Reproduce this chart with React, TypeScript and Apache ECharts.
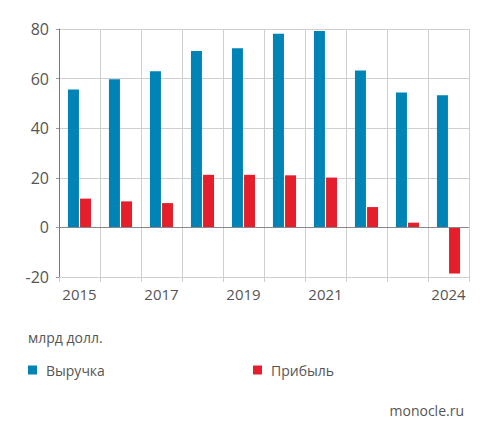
import React, { useEffect, useRef } from "react";
import * as echarts from "echarts";

const years = ["2015", "2016", "2017", "2018", "2019", "2020", "2021", "2022", "2023", "2024"];
const shownYears = ["2015", "2017", "2019", "2021", "2024"];
const revenue = [55.6, 59.7, 63, 71.1, 72.2, 78.1, 79.2, 63.3, 54.4, 53.3];
const profit = [11.6, 10.5, 9.8, 21.2, 21.2, 21.0, 20.1, 8.2, 1.9, -18.6];
const yTicks = { min: -20, max: 80, interval: 20 };

const BLUE = "#0083b5";
const RED = "#e41f2b";
const TEXT = "#555555";
const GRIDC = "#cfcfcf";
const FONT = "'Open Sans', 'Noto Sans', sans-serif";

export default function App() {
  const ref = useRef<HTMLDivElement>(null);
  useEffect(() => {
    document.body.style.margin = "0";
    const chart = echarts.init(ref.current!, null, { renderer: "svg" });
    chart.setOption({
      animation: false,
      backgroundColor: "#ffffff",
      textStyle: { fontFamily: FONT },
      title: [
        { text: "млрд долл.", left: 23, top: 325, textStyle: { fontSize: 14, fontWeight: "normal", color: TEXT, fontFamily: FONT } },
        { text: "monocle.ru", right: 25, top: 398, textStyle: { fontSize: 14, fontWeight: "normal", color: TEXT, fontFamily: FONT } },
      ],
      legend: [
        { data: ["Выручка"], left: 23, top: 358, icon: "rect", itemWidth: 9, itemHeight: 9, itemGap: 10, textStyle: { fontSize: 14, color: TEXT, fontFamily: FONT, padding: [0, 0, 0, 4] } },
        { data: ["Прибыль"], left: 248, top: 358, icon: "rect", itemWidth: 9, itemHeight: 9, itemGap: 10, textStyle: { fontSize: 14, color: TEXT, fontFamily: FONT, padding: [0, 0, 0, 4] } },
      ],
      grid: { left: 59, right: 25, top: 29, bottom: 162 },
      xAxis: [
        {
          type: "category",
          data: years,
          position: "bottom",
          axisLine: { onZero: false, show: false },
          axisTick: { show: false },
          splitLine: { show: false },
          axisLabel: {
            interval: 0,
            formatter: (v: string) => (shownYears.includes(v) ? v : ""),
            color: TEXT,
            fontSize: 15,
            margin: 9,
            fontFamily: FONT,
          },
        },
        {
          type: "value",
          min: 0,
          max: years.length,
          interval: 1,
          position: "bottom",
          axisLine: { onZero: false, show: true, lineStyle: { color: GRIDC } },
          axisTick: { show: true, length: 5, lineStyle: { color: GRIDC } },
          splitLine: { show: true, showMaxLine: true, lineStyle: { color: GRIDC } },
          axisLabel: { show: false },
        },
      ],
      yAxis: {
        type: "value",
        min: yTicks.min,
        max: yTicks.max,
        interval: yTicks.interval,
        axisLine: { show: true, lineStyle: { color: "#777777" } },
        axisTick: { show: true, length: 3, lineStyle: { color: "#999999" } },
        splitLine: { show: true, lineStyle: { color: GRIDC } },
        axisLabel: { color: TEXT, fontSize: 16, margin: 10, fontFamily: FONT },
      },
      series: [
        {
          name: "Выручка",
          type: "bar",
          xAxisIndex: 0,
          data: revenue,
          barWidth: 11,
          barGap: "10%",
          itemStyle: { color: BLUE },
          markLine: {
            silent: true,
            symbol: "none",
            label: { show: false },
            lineStyle: { color: "#888888", type: "solid", width: 1 },
            data: [{ yAxis: 0 }],
          },
        },
        {
          name: "Прибыль",
          type: "bar",
          xAxisIndex: 0,
          data: profit,
          barWidth: 11,
          itemStyle: { color: RED },
        },
      ],
    });
    return () => chart.dispose();
  }, []);
  return <div ref={ref} style={{ width: 494, height: 439 }} />;
}
